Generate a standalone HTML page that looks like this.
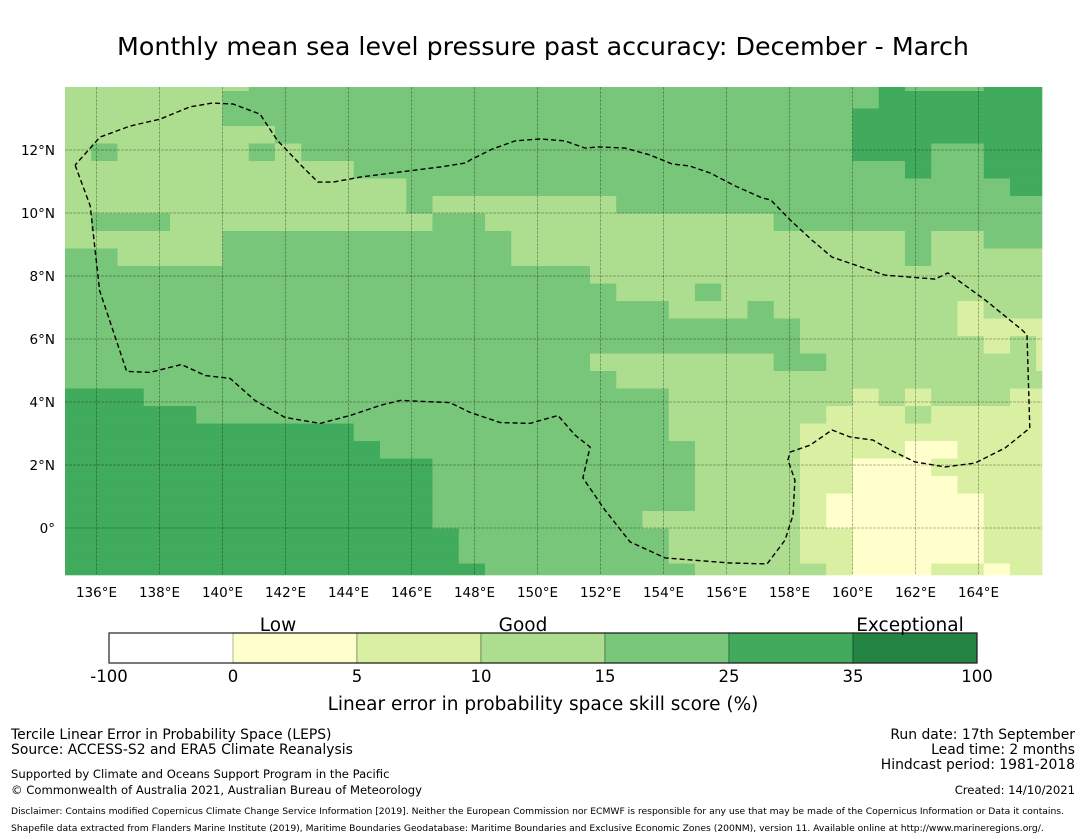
<!DOCTYPE html>
<html><head><meta charset="utf-8"><style>
body{margin:0;background:#fff;}
svg{display:block;font-family:"DejaVu Sans","Liberation Sans",sans-serif;}
</style></head><body>
<svg id="chart" width="1085" height="839" viewBox="0 0 1085 839" xmlns="http://www.w3.org/2000/svg">
<text x="543" y="55" font-size="25.3" text-anchor="middle">Monthly mean sea level pressure past accuracy: December - March</text>
<g id="cells"></g>
<g id="grid"></g>
<path id="eez" fill="none" stroke="#000" stroke-width="1.4" stroke-dasharray="5,3"/>
<g id="xt"></g>
<g id="yt"></g>
<g id="cbar"></g>
<text x="278" y="631" font-size="18.5" text-anchor="middle">Low</text>
<text x="523" y="631" font-size="18.5" text-anchor="middle">Good</text>
<text x="910" y="631" font-size="18.5" text-anchor="middle">Exceptional</text>
<text x="543" y="710" font-size="18.5" text-anchor="middle">Linear error in probability space skill score (%)</text>
<g font-size="13.9">
<text x="11" y="739">Tercile Linear Error in Probability Space (LEPS)</text>
<text x="11" y="754">Source: ACCESS-S2 and ERA5 Climate Reanalysis</text>
</g>
<g font-size="11.6">
<text x="11" y="778">Supported by Climate and Oceans Support Program in the Pacific</text>
<text x="11" y="794">© Commonwealth of Australia 2021, Australian Bureau of Meteorology</text>
</g>
<g font-size="13.9" text-anchor="end">
<text x="1075" y="739">Run date: 17th September</text>
<text x="1075" y="754">Lead time: 2 months</text>
<text x="1075" y="769">Hindcast period: 1981-2018</text>
<text x="1075" y="794" font-size="11.6">Created: 14/10/2021</text>
</g>
<text x="11" y="814" font-size="9.2">Disclaimer: Contains modified Copernicus Climate Change Service Information [2019]. Neither the European Commission nor ECMWF is responsible for any use that may be made of the Copernicus Information or Data it contains.</text>
<text x="11" y="831" font-size="9.2">Shapefile data extracted from Flanders Marine Institute (2019), Maritime Boundaries Geodatabase: Maritime Boundaries and Exclusive Economic Zones (200NM), version 11. Available online at http://www.marineregions.org/.</text>
</svg>
<script>
// skill category per cell, run-length "category:count", rows from north to south
const skillRows = [
"3:7,4:24,5:1,4:3,5:3","3:6,4:25,5:7","3:6,4:24,5:8","3:8,4:22,5:8",
"3:1,4:1,3:5,4:1,3:1,4:21,5:3,4:2,5:3","3:11,4:21,5:1,4:2,5:3","3:13,4:23,5:2",
"3:13,4:1,3:7,4:17","3:1,4:3,3:10,4:2,3:11,4:11","3:6,4:11,3:15,4:1,3:2,4:3",
"4:2,3:4,4:11,3:15,4:1,3:5","4:20,3:18","4:21,3:3,4:1,3:13","4:23,3:3,4:1,3:7,2:1,3:3",
"4:28,3:6,2:4","4:28,3:7,2:1,3:1,2:1","4:20,3:7,4:2,3:8,2:1","4:21,3:17",
"5:3,4:20,3:7,2:1,3:1,2:1,3:3,2:2","5:5,4:18,3:6,2:3,3:1,2:5","5:11,4:12,3:5,2:10",
"5:12,4:12,3:4,2:4,1:2,2:4","5:14,4:10,3:4,2:2,1:3,2:5","5:14,4:10,3:4,2:2,1:4,2:4",
"5:14,4:10,3:4,2:1,1:6,2:3","5:14,4:8,3:6,2:1,1:6,2:3","5:15,4:8,3:5,2:2,1:5,2:3",
"5:15,4:8,3:5,2:2,1:5,2:3","5:16,4:8,3:5,2:1,1:3,2:2,1:1,2:2"
];
const catColors = ["#ffffff","#ffffcc","#d9f0a3","#addd8e","#78c679","#41ab5d","#238443"];
const cbarTicks = ["-100","0","5","10","15","25","35","100"];
const lonTicks = [136,138,140,142,144,146,148,150,152,154,156,158,160,162,164];
const latTicks = [12,10,8,6,4,2,0];
// EEZ boundary vertices (lon, lat)
const eezLon = [135.32,135.8,136.1,136.96,137.7,138.7,139.45,140.24,141.03,141.98,143.1,144.05,145.0,145.64,147.22,147.86,148.81,149.76,150.65,151.19,151.67,151.44,152.14,152.94,154.05,156.11,157.29,157.86,158.11,158.17,157.95,158.02,158.65,159.35,159.92,160.65,161.19,161.98,162.94,163.89,164.84,165.63,165.54,165.38,164.21,163.03,162.62,161.03,159.35,158.71,158.02,157.41,157.13,156.27,155.48,154.84,154.27,153.57,152.78,151.92,151.51,150.87,150.08,149.29,148.56,147.86,147.73,146.9,145.63,144.37,143.51,143.03,142.49,141.73,141.19,140.33,139.67,138.97,138.02,137.06,136.11,135.32];
const eezLat = [11.52,10.23,7.54,4.97,4.94,5.19,4.84,4.75,4.05,3.51,3.32,3.57,3.89,4.05,3.98,3.67,3.35,3.32,3.57,2.95,2.57,1.59,0.57,-0.44,-0.95,-1.11,-1.14,-0.38,0.41,1.52,2.16,2.41,2.63,3.11,2.89,2.79,2.48,2.1,1.94,2.06,2.54,3.17,6.13,6.29,7.24,8.1,7.9,8.03,8.6,9.14,9.78,10.41,10.48,10.86,11.27,11.49,11.56,11.84,12.06,12.1,12.06,12.29,12.35,12.29,12.03,11.68,11.59,11.46,11.3,11.14,10.98,10.98,11.52,12.32,13.14,13.46,13.49,13.37,12.98,12.76,12.41,11.52];

const NS="http://www.w3.org/2000/svg";
const X0=65,X1=1042,Y0=87,Y1=575, LON0=135, LAT0=14, PPD=31.5;
const xOf=lon=>X0+(lon-LON0)*PPD;
const yOf=lat=>Y0+(LAT0-lat)*PPD;
const CW=0.8333*PPD, RH=0.5556*PPD, ROWTOP=91;
function mk(tag,attrs,parent){const e=document.createElementNS(NS,tag);for(const k in attrs)e.setAttribute(k,attrs[k]);parent.appendChild(e);return e;}

const cells=document.getElementById('cells');
skillRows.forEach((row,r)=>{
  const yt = r===0?Y0:ROWTOP+(r-1)*RH;
  const yb = Math.min(Y1, ROWTOP+r*RH);
  let c=0;
  row.split(',').forEach(seg=>{
    const [cat,n]=seg.split(':').map(Number);
    const xl=X0+c*CW, xr=Math.min(X1,X0+(c+n)*CW);
    const e=mk('rect',{x:xl.toFixed(2),y:yt.toFixed(2),width:(xr-xl+0.3).toFixed(2),height:(yb-yt+0.3).toFixed(2),fill:catColors[cat]},cells);
    
    
    c+=n;
  });
});

const grid=document.getElementById('grid'), xt=document.getElementById('xt'), yt=document.getElementById('yt');
lonTicks.forEach(l=>{
  const x=xOf(l);
  const ln=mk('line',{x1:x,y1:Y0,x2:x,y2:Y1,stroke:'rgba(0,0,0,0.28)','stroke-width':1,'stroke-dasharray':'3,1'},grid);
  
  
  const t=mk('text',{x:x,y:597,'font-size':13.5,'text-anchor':'middle'},xt);
  t.textContent=l+'°E';
  
  
});
latTicks.forEach(l=>{
  const y=yOf(l);
  const ln=mk('line',{x1:X0,y1:y,x2:X1,y2:y,stroke:'rgba(0,0,0,0.28)','stroke-width':1,'stroke-dasharray':'3,1'},grid);
  
  
  const t=mk('text',{x:55,y:y+5,'font-size':13.5,'text-anchor':'end'},yt);
  t.textContent=l===0?'0°':l+'°N';
  
  
});

let d='';
eezLon.forEach((lo,i)=>{d+=(i?'L':'M')+xOf(lo).toFixed(1)+','+yOf(eezLat[i]).toFixed(1);});
document.getElementById('eez').setAttribute('d',d);

const cb=document.getElementById('cbar');
const CB0=109,CB1=977,CBY=633,CBH=30,SEG=(CB1-CB0)/7;
for(let i=0;i<7;i++){
  const s=mk('rect',{x:CB0+i*SEG,y:CBY,width:SEG,height:CBH,fill:catColors[i],stroke:i?'rgba(0,0,0,0.2)':'none','stroke-width':1.5},cb);
  
  
}
const fr=mk('rect',{x:CB0,y:CBY,width:CB1-CB0,height:CBH,fill:'none',stroke:'#222','stroke-width':1.2},cb);


cbarTicks.forEach((t,i)=>{
  const e=mk('text',{x:CB0+i*SEG,y:682,'font-size':16.5,'text-anchor':'middle'},cb);
  e.textContent=t;
  
  
});
</script>
</body></html>
